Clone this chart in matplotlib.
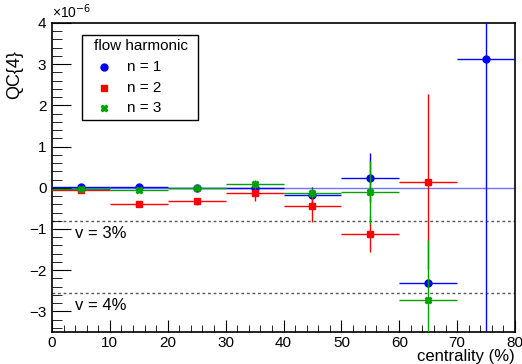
import matplotlib
matplotlib.use("Agg")
import matplotlib.pyplot as plt
from matplotlib.ticker import MultipleLocator
from matplotlib.patches import Rectangle
from matplotlib.lines import Line2D

plt.rcParams['font.family'] = ['Liberation Sans', 'DejaVu Sans']

bin_half = 5

n1_x = [5, 15, 25, 35, 45, 55, 65, 75]
n1_y = [0.02, 0.01, 0.0, 0.0, -0.17, 0.25, -2.31, 3.13]
n1_err = [0.05, 0.04, 0.06, 0.05, 0.2, 0.6, 0.1, 8.0]

n2_x = [5, 15, 25, 35, 45, 55, 65]
n2_y = [-0.06, -0.39, -0.33, -0.13, -0.44, -1.12, 0.15]
n2_err = [0.04, 0.05, 0.08, 0.18, 0.38, 0.43, 2.12]

n3_x = [5, 15, 25, 35, 45, 55, 65]
n3_y = [-0.03, -0.05, 0.0, 0.1, -0.13, -0.11, -2.72]
n3_err = [0.04, 0.04, 0.06, 0.1, 0.12, 0.76, 1.46]

v_levels = [3, 4]
v_labels = ["v = 3%", "v = 4%"]

series_labels = ["n = 1", "n = 2", "n = 3"]
series_colors = ['#0000ff', '#ff0000', '#00a000']
series_markers = ['o', 's', 'X']

W, H = 522, 364
def fx(px):
    return px / W
def fy(py):
    return 1 - py / H

fig = plt.figure(figsize=(5.22, 3.64), dpi=100)
ax = fig.add_axes([fx(52), fy(332), (515-52)/W, (332-23)/H])
ax.set_xlim(0, 80)
ax.set_ylim(-3.5, 4)

ax.axhline(0, color='#5050ff', lw=1.0, alpha=0.8, zorder=1)

for v, lab in zip(v_levels, v_labels):
    yv = -(v/100.0)**4 * 1e6
    ax.axhline(yv, color='#555555', lw=1.0, ls=(0, (2, 2)), zorder=1)
    ax.text(4, yv - 0.3, lab, fontsize=12, va='center', ha='left')

data = [(n1_x, n1_y, n1_err), (n2_x, n2_y, n2_err), (n3_x, n3_y, n3_err)]
for i, (xs, ys, es) in enumerate(data):
    ax.errorbar(xs, ys, xerr=bin_half, yerr=es, fmt=series_markers[i], color=series_colors[i],
                ms=5, lw=1.0, capsize=0, zorder=3 + i)

ax.xaxis.set_major_locator(MultipleLocator(10))
ax.xaxis.set_minor_locator(MultipleLocator(2))
ax.yaxis.set_major_locator(MultipleLocator(1))
ax.yaxis.set_minor_locator(MultipleLocator(0.2))
ax.tick_params(which='both', direction='in', top=False, right=False, labelsize=11)
ax.tick_params(axis='y', which='major', length=14, pad=4)
ax.tick_params(axis='y', which='minor', length=7)
ax.tick_params(axis='x', which='major', length=9, pad=3)
ax.tick_params(axis='x', which='minor', length=5)
ax.set_yticks([-3, -2, -1, 0, 1, 2, 3, 4])
ax.set_yticklabels(['\u22123', '\u22122', '\u22121', '0', '1', '2', '3', '4'])
for s in ax.spines.values():
    s.set_linewidth(1.2)

ax.text(0.0, 1.005, '\u00d710$^{-6}$', transform=ax.transAxes, fontsize=10, ha='left', va='bottom')
fig.text(fx(15), fy(50), 'QC{4}', rotation=90, fontsize=13, ha='center', va='top')
fig.text(fx(515), fy(364), 'centrality (%)', fontsize=12, ha='right', va='bottom')

# legend box drawn manually (ROOT TLegend style)
fig.patches.append(Rectangle((fx(82), fy(120)), (198-82)/W, (120-35)/H, transform=fig.transFigure,
                             facecolor='white', edgecolor='black', lw=1.0, zorder=10))
fig.text(fx(141), fy(46), 'flow harmonic', fontsize=11, ha='center', va='center', zorder=11)
for i, lab in enumerate(series_labels):
    yy = fy(67 + 20.5 * i)
    fig.lines.append(Line2D([fx(104)], [yy], marker=series_markers[i], color=series_colors[i],
                            ms=5, ls='none', transform=fig.transFigure, zorder=11))
    fig.text(fx(127), yy, lab, fontsize=11, ha='left', va='center', zorder=11)

fig.savefig('out.png', dpi=100)
